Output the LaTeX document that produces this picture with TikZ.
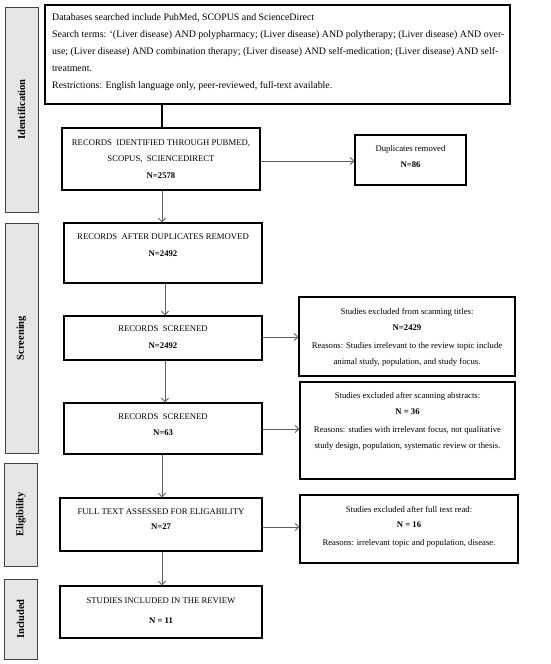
\documentclass[tikz,border=0pt]{standalone}
\usepackage{fontspec}
\setmainfont{Liberation Serif}
\usetikzlibrary{arrows.meta}
\definecolor{sidefill}{HTML}{E5E5E5}
\definecolor{sideline}{HTML}{444444}
\definecolor{arrowgray}{HTML}{606060}
\tikzset{
  box/.style={draw=black, line width=1.4pt, inner sep=0pt, fill=white},
  side/.style={draw=sideline, line width=0.9pt, fill=sidefill, inner sep=0pt},
  sidetext/.style={rotate=90, font=\fontsize{10.5}{12}\selectfont\bfseries, inner sep=0pt},
  btext/.style={align=center, inner sep=0pt, font=\fontsize{8.7}{16}\selectfont},
  toptext/.style={align=left, inner sep=0pt, font=\fontsize{9.9}{16.9}\selectfont},
  arr/.style={draw=arrowgray, line width=0.8pt, -{Straight Barb[length=3.5pt,width=7pt]}},
  plain/.style={draw=black, line width=1.2pt}
}
\begin{document}
\begin{tikzpicture}[x=1pt,y=-1pt]
\useasboundingbox (0,0) rectangle (550,664);
% side bars
\node[side, minimum width=33pt, minimum height=205pt] (s1) at (21.5,109.5) {};
\node[sidetext] (s1t) at (s1.center) {Identification};
\node[side, minimum width=33pt, minimum height=230pt] (s2) at (21.5,338) {};
\node[sidetext] (s2t) at (s2.center) {Screening};
\node[side, minimum width=33pt, minimum height=103pt] (s3) at (21,514.5) {};
\node[sidetext] (s3t) at (s3.center) {Eligibility};
\node[side, minimum width=33pt, minimum height=80pt] (s4) at (20.5,619) {};
\node[sidetext] (s4t) at (s4.center) {Included};
% boxes
\node[box, minimum width=465pt, minimum height=99pt] (top) at (277.5,54.5) {};
\node[toptext, anchor=west] (topt) at (52,52) {Databases searched include PubMed, SCOPUS and ScienceDirect\\
Search terms: ‘(Liver disease) AND polypharmacy; (Liver disease) AND polytherapy; (Liver disease) AND over-\\
use; (Liver disease) AND combination therapy; (Liver disease) AND self-medication; (Liver disease) AND self-\\
treatment.\\
Restrictions: English language only, peer-reviewed, full-text available.};

\node[box, minimum width=198pt, minimum height=62pt] (rid) at (161,159) {};
\node[btext] (ridt) at (161,159) {RECORDS\ \ IDENTIFIED THROUGH PUBMED,\\[0.5pt] SCOPUS,\ \ SCIENCEDIRECT\\[0.5pt] \textbf{N=2578}};

\node[box, minimum width=111pt, minimum height=50pt] (dup) at (410.5,160) {};
\node[btext] (dupt) at (410.5,157) {Duplicates removed\\ \textbf{N=86}};

\node[box, minimum width=198pt, minimum height=60pt] (rad) at (163,253) {};
\node[btext] (radt) at (163,245.5) {RECORDS\ \ AFTER DUPLICATES REMOVED\\[1pt] \textbf{N=2492}};

\node[box, minimum width=198pt, minimum height=44pt] (rs1) at (163,338) {};
\node[btext] (rs1t) at (163,337.5) {RECORDS\ \ SCREENED\\[1pt] \textbf{N=2492}};

\node[box, minimum width=216pt, minimum height=79pt] (ex1) at (407,336.5) {};
\node[btext] (ex1t) at (407,337.5) {Studies excluded from scanning titles:\\ \textbf{N=2429}\\[2.5pt] Reasons: Studies irrelevant to the review topic include\\ animal study, population, and study focus.};

\node[box, minimum width=198pt, minimum height=51pt] (rs2) at (163,428.5) {};
\node[btext] (rs2t) at (163,425) {RECORDS\ \ SCREENED\\ \textbf{N=63}};

\node[box, minimum width=215pt, minimum height=97pt] (ex2) at (407.5,430.5) {};
\node[btext] (ex2t) at (407.5,421.5) {Studies excluded after scanning abstracts:\\ \textbf{N = 36}\\[1.5pt] Reasons: studies with irrelevant focus, not qualitative\\ study design, population, systematic review or thesis.};

\node[box, minimum width=202pt, minimum height=53pt] (ft) at (161,524.5) {};
\node[btext] (ftt) at (161,519.5) {FULL TEXT ASSESSED FOR ELIGABILITY\\[-1pt] \textbf{N=27}};

\node[box, minimum width=218pt, minimum height=68pt] (ex3) at (409,529) {};
\node[btext] (ex3t) at (409,526.5) {Studies excluded after full text read:\\[-1pt] \textbf{N = 16}\\[2pt] Reasons: irrelevant topic and population, disease.};

\node[box, minimum width=202pt, minimum height=52pt] (inc) at (161,612) {};
\node[btext] (inct) at (161,611) {STUDIES INCLUDED IN THE REVIEW\\[4pt] \textbf{N = 11}};

% guide coordinates
\coordinate (xa) at (162,0);
\coordinate (xb) at (165,0);
% connectors
\draw[plain] (top.south -| xa) -- (rid.north -| xa);
\draw[arr] (rid.south -| xa) -- (rad.north -| xa);
\draw[arr] (rid.east |- 0,161) -- (dup.west |- 0,161);
\draw[arr] (rad.south -| xb) -- (rs1.north -| xb);
\draw[arr] (rs1.east |- 0,337) -- (ex1.west |- 0,337);
\draw[arr] (rs1.south -| xb) -- (rs2.north -| xb);
\draw[arr] (rs2.east |- 0,429) -- (ex2.west |- 0,429);
\draw[arr] (rs2.south -| xa) -- (ft.north -| xa);
\draw[arr] (ft.east |- 0,527) -- (ex3.west |- 0,527);
\draw[arr] (ft.south -| xa) -- (inc.north -| xa);
\end{tikzpicture}
\end{document}
